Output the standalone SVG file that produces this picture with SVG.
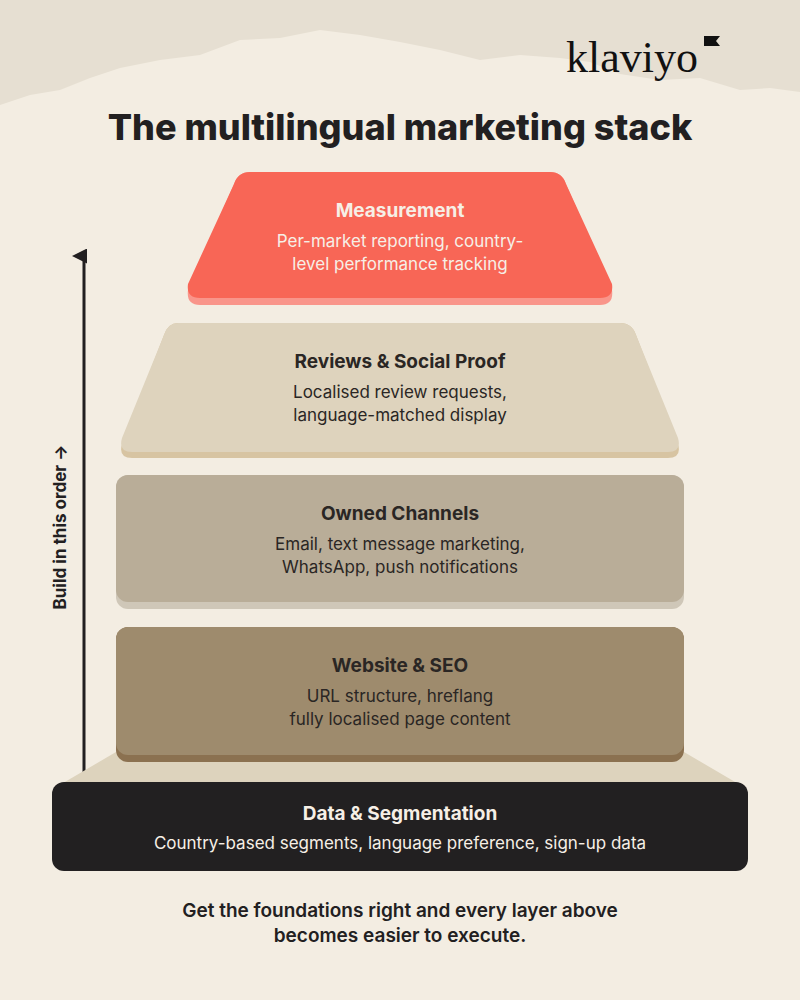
<svg xmlns="http://www.w3.org/2000/svg" width="800" height="1000" viewBox="0 0 800 1000">
<style>
.t{font-family:Inter,"Noto Sans",sans-serif;font-weight:700;font-size:19px;text-anchor:middle;fill:#2a2624}
.s{font-family:Inter,"Noto Sans",sans-serif;font-size:17px;text-anchor:middle;fill:#2a2624}
.w{fill:#f6efe6}
</style>
<defs><marker id="ah" viewBox="0 0 10 10" refX="5" refY="8" markerWidth="5" markerHeight="5" orient="auto"><path d="M0,10 L5,0 L10,10 Z" fill="#222021"/></marker></defs>
<rect width="800" height="1000" fill="#f3ede2"/>
<path d="M0,0 H800 V92 L770,88 L740,90 L700,78 L660,80 L620,74 L590,62 L560,58 L520,55 L480,60 L440,50 L400,42 L360,35 L320,30 L280,38 L240,40 L200,55 L160,60 L120,68 L90,78 L60,90 L30,95 L0,105 Z" fill="#e6dfd2"/>
<text x="632" y="72" font-family="'Liberation Serif',serif" font-size="44" text-anchor="middle" fill="#111">klaviyo</text>
<path d="M704,36 H720 L716,41 L720,46 H704 Z" fill="#111"/>
<text x="400" y="140" font-family="Inter,'Noto Sans',sans-serif" font-weight="800" font-size="36" text-anchor="middle" fill="#222021">The multilingual marketing stack</text>
<g id="connectors">
<line x1="84" y1="772" x2="84" y2="256" stroke="#222021" stroke-width="3" marker-end="url(#ah)"/>
<text transform="translate(66,527) rotate(-90)" font-family="Inter,'Noto Sans',sans-serif" font-weight="700" font-size="17" text-anchor="middle" fill="#222021">Build in this order →</text>
</g>
<g id="measurement">
<path d="M250,172 H550 Q562,172 566,184 L612,290 Q614,305 600,305 H200 Q186,305 188,290 L234,184 Q238,172 250,172 Z" fill="#f9958a"/>
<path d="M250,172 H550 Q562,172 566,184 L612,284 Q614,298 600,298 H200 Q186,298 188,284 L234,184 Q238,172 250,172 Z" fill="#f86656"/>
<text class="t w" x="400" y="217">Measurement</text>
<text class="s w" x="400" y="247">Per-market reporting, country-</text>
<text class="s w" x="400" y="270">level performance tracking</text>
</g>
<g id="reviews">
<path d="M178,323 H620 Q632,323 636,335 L678,444 Q682,458 668,458 H132 Q118,458 122,444 L164,335 Q168,323 178,323 Z" fill="#d7c4a2"/>
<path d="M178,323 H620 Q632,323 636,335 L678,438 Q682,452 668,452 H132 Q118,452 122,438 L164,335 Q168,323 178,323 Z" fill="#ded3bd"/>
<text class="t" x="400" y="368">Reviews &amp; Social Proof</text>
<text class="s" x="400" y="398">Localised review requests,</text>
<text class="s" x="400" y="421">language-matched display</text>
</g>
<g id="owned">
<rect x="116" y="475" width="568" height="134" rx="12" fill="#cfc7b8"/>
<rect x="116" y="475" width="568" height="127" rx="12" fill="#b9ad98"/>
<text class="t" x="400" y="520">Owned Channels</text>
<text class="s" x="400" y="550">Email, text message marketing,</text>
<text class="s" x="400" y="573">WhatsApp, push notifications</text>
</g>
<g id="platform"><path d="M116,752 H684 L742,786 H58 Z" fill="#ddd3bd"/></g>
<g id="website">
<rect x="116" y="627" width="568" height="135" rx="12" fill="#8b7150"/>
<rect x="116" y="627" width="568" height="128" rx="12" fill="#9e8b6d"/>
<text class="t" x="400" y="672">Website &amp; SEO</text>
<text class="s" x="400" y="702">URL structure, hreflang</text>
<text class="s" x="400" y="725">fully localised page content</text>
</g>
<g id="data">
<rect x="52" y="782" width="696" height="89" rx="12" fill="#222021"/>
<text class="t w" x="400" y="820">Data &amp; Segmentation</text>
<text class="s w" x="400" y="849">Country-based segments, language preference, sign-up data</text>
</g>
<text x="400" y="917" font-family="Inter,'Noto Sans',sans-serif" font-weight="600" font-size="19" text-anchor="middle" fill="#222021">Get the foundations right and every layer above</text>
<text x="400" y="942" font-family="Inter,'Noto Sans',sans-serif" font-weight="600" font-size="19" text-anchor="middle" fill="#222021">becomes easier to execute.</text>
</svg>
